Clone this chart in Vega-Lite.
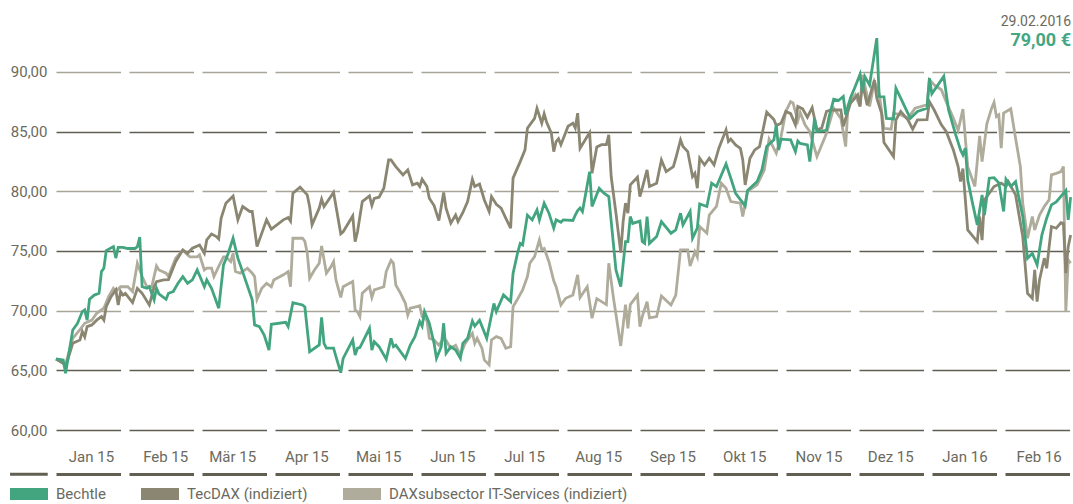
{
"$schema": "https://vega.github.io/schema/vega-lite/v6.json",
"width": 1017,
"height": 394,
"autosize": {"type": "none"},
"padding": {"left": 56, "top": 36, "right": 0, "bottom": 74},
"background": "white",
"title": {"text": "29.02.2016", "subtitle": "79,00 €", "anchor": "end", "orient": "top", "frame": "group", "offset": -17, "dx": -2, "font": "Roboto", "fontSize": 14, "fontWeight": "normal", "color": "#6b6a5e", "subtitleFont": "Roboto", "subtitleFontSize": 18, "subtitleFontWeight": "bold", "subtitleColor": "#44a683", "subtitlePadding": 3},
"config": {"view": {"stroke": null}, "font": "Roboto"},
"datasets": {
"bechtle": [{"Datum":"2015-01-01","Wert":65.95},{"Datum":"2015-01-04","Wert":65.87},{"Datum":"2015-01-05","Wert":64.75},{"Datum":"2015-01-08","Wert":68.38},{"Datum":"2015-01-10","Wert":68.94},{"Datum":"2015-01-12","Wert":69.92},{"Datum":"2015-01-13","Wert":70.06},{"Datum":"2015-01-14","Wert":69.2},{"Datum":"2015-01-15","Wert":70.95},{"Datum":"2015-01-17","Wert":71.3},{"Datum":"2015-01-19","Wert":71.45},{"Datum":"2015-01-20","Wert":73.27},{"Datum":"2015-01-21","Wert":73.55},{"Datum":"2015-01-22","Wert":75.03},{"Datum":"2015-01-25","Wert":75.36},{"Datum":"2015-01-26","Wert":74.4},{"Datum":"2015-01-27","Wert":75.3},{"Datum":"2015-01-29","Wert":75.3},{"Datum":"2015-01-31","Wert":75.2},{"Datum":"2015-02-03","Wert":75.2},{"Datum":"2015-02-04","Wert":75.36},{"Datum":"2015-02-05","Wert":76.15},{"Datum":"2015-02-06","Wert":72.0},{"Datum":"2015-02-08","Wert":71.87},{"Datum":"2015-02-09","Wert":72.0},{"Datum":"2015-02-11","Wert":70.9},{"Datum":"2015-02-12","Wert":71.87},{"Datum":"2015-02-13","Wert":71.4},{"Datum":"2015-02-16","Wert":70.95},{"Datum":"2015-02-17","Wert":71.45},{"Datum":"2015-02-19","Wert":71.6},{"Datum":"2015-02-21","Wert":72.29},{"Datum":"2015-02-23","Wert":72.85},{"Datum":"2015-02-25","Wert":72.29},{"Datum":"2015-02-27","Wert":72.57},{"Datum":"2015-03-01","Wert":73.41},{"Datum":"2015-03-04","Wert":72.0},{"Datum":"2015-03-05","Wert":72.57},{"Datum":"2015-03-07","Wert":71.87},{"Datum":"2015-03-10","Wert":70.2},{"Datum":"2015-03-12","Wert":73.83},{"Datum":"2015-03-14","Wert":74.8},{"Datum":"2015-03-16","Wert":76.06},{"Datum":"2015-03-18","Wert":74.39},{"Datum":"2015-03-19","Wert":73.83},{"Datum":"2015-03-24","Wert":70.9},{"Datum":"2015-03-25","Wert":68.8},{"Datum":"2015-03-27","Wert":68.66},{"Datum":"2015-03-29","Wert":67.96},{"Datum":"2015-03-31","Wert":66.7},{"Datum":"2015-04-01","Wert":68.85},{"Datum":"2015-04-07","Wert":69.02},{"Datum":"2015-04-08","Wert":68.66},{"Datum":"2015-04-10","Wert":70.67},{"Datum":"2015-04-14","Wert":70.47},{"Datum":"2015-04-15","Wert":70.3},{"Datum":"2015-04-17","Wert":66.56},{"Datum":"2015-04-21","Wert":67.12},{"Datum":"2015-04-22","Wert":69.44},{"Datum":"2015-04-23","Wert":67.26},{"Datum":"2015-04-24","Wert":66.85},{"Datum":"2015-04-27","Wert":66.85},{"Datum":"2015-04-28","Wert":66.14},{"Datum":"2015-04-30","Wert":64.8},{"Datum":"2015-05-01","Wert":66.0},{"Datum":"2015-05-05","Wert":67.54},{"Datum":"2015-05-06","Wert":66.28},{"Datum":"2015-05-07","Wert":66.85},{"Datum":"2015-05-08","Wert":66.9},{"Datum":"2015-05-12","Wert":68.52},{"Datum":"2015-05-13","Wert":66.7},{"Datum":"2015-05-14","Wert":67.4},{"Datum":"2015-05-16","Wert":66.98},{"Datum":"2015-05-19","Wert":65.93},{"Datum":"2015-05-21","Wert":67.68},{"Datum":"2015-05-22","Wert":66.98},{"Datum":"2015-05-23","Wert":67.1},{"Datum":"2015-05-27","Wert":66.0},{"Datum":"2015-05-29","Wert":67.1},{"Datum":"2015-05-31","Wert":67.82},{"Datum":"2015-06-02","Wert":69.08},{"Datum":"2015-06-03","Wert":68.7},{"Datum":"2015-06-04","Wert":69.92},{"Datum":"2015-06-06","Wert":68.94},{"Datum":"2015-06-08","Wert":67.26},{"Datum":"2015-06-09","Wert":66.0},{"Datum":"2015-06-11","Wert":66.98},{"Datum":"2015-06-12","Wert":68.94},{"Datum":"2015-06-13","Wert":66.42},{"Datum":"2015-06-15","Wert":66.98},{"Datum":"2015-06-17","Wert":66.7},{"Datum":"2015-06-19","Wert":66.0},{"Datum":"2015-06-20","Wert":67.26},{"Datum":"2015-06-22","Wert":67.68},{"Datum":"2015-06-24","Wert":69.13},{"Datum":"2015-06-25","Wert":68.7},{"Datum":"2015-06-27","Wert":69.2},{"Datum":"2015-06-30","Wert":67.68},{"Datum":"2015-07-03","Wert":70.6},{"Datum":"2015-07-04","Wert":69.92},{"Datum":"2015-07-07","Wert":71.31},{"Datum":"2015-07-10","Wert":70.75},{"Datum":"2015-07-11","Wert":73.12},{"Datum":"2015-07-13","Wert":74.93},{"Datum":"2015-07-14","Wert":75.63},{"Datum":"2015-07-15","Wert":75.5},{"Datum":"2015-07-17","Wert":78.0},{"Datum":"2015-07-19","Wert":77.6},{"Datum":"2015-07-21","Wert":78.44},{"Datum":"2015-07-22","Wert":77.6},{"Datum":"2015-07-24","Wert":79.0},{"Datum":"2015-07-26","Wert":78.16},{"Datum":"2015-07-28","Wert":76.9},{"Datum":"2015-07-29","Wert":77.6},{"Datum":"2015-07-31","Wert":77.4},{"Datum":"2015-08-01","Wert":77.6},{"Datum":"2015-08-05","Wert":77.55},{"Datum":"2015-08-06","Wert":78.0},{"Datum":"2015-08-07","Wert":78.38},{"Datum":"2015-08-08","Wert":78.6},{"Datum":"2015-08-09","Wert":78.3},{"Datum":"2015-08-12","Wert":81.64},{"Datum":"2015-08-13","Wert":78.72},{"Datum":"2015-08-16","Wert":80.25},{"Datum":"2015-08-18","Wert":79.83},{"Datum":"2015-08-20","Wert":79.55},{"Datum":"2015-08-23","Wert":73.41},{"Datum":"2015-08-25","Wert":72.0},{"Datum":"2015-08-27","Wert":75.78},{"Datum":"2015-08-28","Wert":75.78},{"Datum":"2015-08-29","Wert":77.88},{"Datum":"2015-08-30","Wert":77.3},{"Datum":"2015-09-02","Wert":77.5},{"Datum":"2015-09-03","Wert":75.78},{"Datum":"2015-09-04","Wert":75.63},{"Datum":"2015-09-05","Wert":77.88},{"Datum":"2015-09-06","Wert":75.63},{"Datum":"2015-09-09","Wert":76.2},{"Datum":"2015-09-11","Wert":77.46},{"Datum":"2015-09-15","Wert":76.48},{"Datum":"2015-09-17","Wert":76.76},{"Datum":"2015-09-19","Wert":78.16},{"Datum":"2015-09-20","Wert":77.18},{"Datum":"2015-09-23","Wert":78.3},{"Datum":"2015-09-24","Wert":76.06},{"Datum":"2015-09-26","Wert":76.9},{"Datum":"2015-09-27","Wert":78.94},{"Datum":"2015-09-30","Wert":78.72},{"Datum":"2015-10-02","Wert":80.67},{"Datum":"2015-10-04","Wert":80.39},{"Datum":"2015-10-08","Wert":82.29},{"Datum":"2015-10-10","Wert":81.09},{"Datum":"2015-10-12","Wert":79.83},{"Datum":"2015-10-16","Wert":78.77},{"Datum":"2015-10-17","Wert":80.06},{"Datum":"2015-10-21","Wert":80.81},{"Datum":"2015-10-23","Wert":81.79},{"Datum":"2015-10-25","Wert":83.74},{"Datum":"2015-10-28","Wert":84.3},{"Datum":"2015-10-29","Wert":85.56},{"Datum":"2015-10-30","Wert":83.46},{"Datum":"2015-10-31","Wert":84.36},{"Datum":"2015-11-04","Wert":84.3},{"Datum":"2015-11-06","Wert":83.32},{"Datum":"2015-11-07","Wert":84.2},{"Datum":"2015-11-08","Wert":84.0},{"Datum":"2015-11-11","Wert":83.88},{"Datum":"2015-11-12","Wert":82.48},{"Datum":"2015-11-14","Wert":86.1},{"Datum":"2015-11-15","Wert":85.0},{"Datum":"2015-11-19","Wert":85.1},{"Datum":"2015-11-20","Wert":86.2},{"Datum":"2015-11-22","Wert":87.7},{"Datum":"2015-11-24","Wert":87.6},{"Datum":"2015-11-26","Wert":87.93},{"Datum":"2015-11-27","Wert":86.4},{"Datum":"2015-11-29","Wert":87.8},{"Datum":"2015-12-01","Wert":88.77},{"Datum":"2015-12-03","Wert":89.8},{"Datum":"2015-12-04","Wert":88.35},{"Datum":"2015-12-05","Wert":89.6},{"Datum":"2015-12-07","Wert":88.9},{"Datum":"2015-12-10","Wert":92.82},{"Datum":"2015-12-11","Wert":87.93},{"Datum":"2015-12-13","Wert":87.9},{"Datum":"2015-12-14","Wert":86.1},{"Datum":"2015-12-17","Wert":86.05},{"Datum":"2015-12-18","Wert":88.63},{"Datum":"2015-12-20","Wert":87.8},{"Datum":"2015-12-24","Wert":86.1},{"Datum":"2015-12-27","Wert":86.68},{"Datum":"2015-12-31","Wert":86.96},{"Datum":"2016-01-01","Wert":89.47},{"Datum":"2016-01-02","Wert":88.16},{"Datum":"2016-01-07","Wert":89.62},{"Datum":"2016-01-09","Wert":86.8},{"Datum":"2016-01-12","Wert":84.72},{"Datum":"2016-01-14","Wert":83.46},{"Datum":"2016-01-15","Wert":83.04},{"Datum":"2016-01-16","Wert":83.6},{"Datum":"2016-01-17","Wert":80.95},{"Datum":"2016-01-19","Wert":79.0},{"Datum":"2016-01-21","Wert":77.18},{"Datum":"2016-01-23","Wert":79.69},{"Datum":"2016-01-24","Wert":78.0},{"Datum":"2016-01-26","Wert":81.09},{"Datum":"2016-01-28","Wert":81.13},{"Datum":"2016-01-30","Wert":80.7},{"Datum":"2016-02-01","Wert":78.3},{"Datum":"2016-02-02","Wert":81.0},{"Datum":"2016-02-04","Wert":80.4},{"Datum":"2016-02-06","Wert":80.8},{"Datum":"2016-02-09","Wert":77.88},{"Datum":"2016-02-11","Wert":74.38},{"Datum":"2016-02-13","Wert":74.8},{"Datum":"2016-02-15","Wert":73.83},{"Datum":"2016-02-17","Wert":76.34},{"Datum":"2016-02-19","Wert":77.74},{"Datum":"2016-02-21","Wert":78.86},{"Datum":"2016-02-23","Wert":79.1},{"Datum":"2016-02-27","Wert":80.06},{"Datum":"2016-02-28","Wert":77.6},{"Datum":"2016-02-29","Wert":79.5}],
"tecdax": [{"Datum":"2015-01-01","Wert":65.95},{"Datum":"2015-01-04","Wert":65.59},{"Datum":"2015-01-05","Wert":65.3},{"Datum":"2015-01-08","Wert":67.26},{"Datum":"2015-01-11","Wert":67.54},{"Datum":"2015-01-12","Wert":68.24},{"Datum":"2015-01-13","Wert":67.8},{"Datum":"2015-01-14","Wert":68.66},{"Datum":"2015-01-16","Wert":68.8},{"Datum":"2015-01-18","Wert":69.2},{"Datum":"2015-01-20","Wert":69.5},{"Datum":"2015-01-21","Wert":69.2},{"Datum":"2015-01-22","Wert":70.33},{"Datum":"2015-01-24","Wert":71.17},{"Datum":"2015-01-26","Wert":71.73},{"Datum":"2015-01-27","Wert":70.47},{"Datum":"2015-01-28","Wert":71.6},{"Datum":"2015-01-29","Wert":71.31},{"Datum":"2015-01-30","Wert":71.45},{"Datum":"2015-02-02","Wert":70.67},{"Datum":"2015-02-04","Wert":71.87},{"Datum":"2015-02-06","Wert":71.45},{"Datum":"2015-02-09","Wert":70.47},{"Datum":"2015-02-11","Wert":72.0},{"Datum":"2015-02-12","Wert":72.43},{"Datum":"2015-02-15","Wert":72.57},{"Datum":"2015-02-17","Wert":72.6},{"Datum":"2015-02-20","Wert":74.1},{"Datum":"2015-02-23","Wert":75.08},{"Datum":"2015-02-25","Wert":74.8},{"Datum":"2015-02-27","Wert":75.22},{"Datum":"2015-03-02","Wert":75.5},{"Datum":"2015-03-04","Wert":74.8},{"Datum":"2015-03-05","Wert":75.92},{"Datum":"2015-03-07","Wert":76.42},{"Datum":"2015-03-09","Wert":76.2},{"Datum":"2015-03-10","Wert":76.0},{"Datum":"2015-03-11","Wert":77.73},{"Datum":"2015-03-13","Wert":79.0},{"Datum":"2015-03-16","Wert":79.6},{"Datum":"2015-03-18","Wert":77.6},{"Datum":"2015-03-20","Wert":78.72},{"Datum":"2015-03-23","Wert":78.3},{"Datum":"2015-03-24","Wert":78.3},{"Datum":"2015-03-26","Wert":75.36},{"Datum":"2015-03-30","Wert":77.6},{"Datum":"2015-04-01","Wert":76.82},{"Datum":"2015-04-06","Wert":77.6},{"Datum":"2015-04-08","Wert":77.8},{"Datum":"2015-04-09","Wert":77.5},{"Datum":"2015-04-10","Wert":79.83},{"Datum":"2015-04-13","Wert":80.34},{"Datum":"2015-04-16","Wert":79.69},{"Datum":"2015-04-17","Wert":78.7},{"Datum":"2015-04-18","Wert":77.18},{"Datum":"2015-04-21","Wert":78.58},{"Datum":"2015-04-22","Wert":79.33},{"Datum":"2015-04-23","Wert":78.72},{"Datum":"2015-04-27","Wert":79.9},{"Datum":"2015-04-30","Wert":76.43},{"Datum":"2015-05-01","Wert":76.6},{"Datum":"2015-05-05","Wert":77.93},{"Datum":"2015-05-06","Wert":75.78},{"Datum":"2015-05-07","Wert":76.6},{"Datum":"2015-05-09","Wert":79.13},{"Datum":"2015-05-12","Wert":79.6},{"Datum":"2015-05-13","Wert":78.8},{"Datum":"2015-05-14","Wert":79.4},{"Datum":"2015-05-16","Wert":79.5},{"Datum":"2015-05-18","Wert":80.25},{"Datum":"2015-05-20","Wert":82.62},{"Datum":"2015-05-21","Wert":82.62},{"Datum":"2015-05-23","Wert":82.06},{"Datum":"2015-05-26","Wert":81.37},{"Datum":"2015-05-28","Wert":81.79},{"Datum":"2015-05-30","Wert":80.53},{"Datum":"2015-06-01","Wert":80.67},{"Datum":"2015-06-02","Wert":80.4},{"Datum":"2015-06-03","Wert":81.0},{"Datum":"2015-06-05","Wert":80.4},{"Datum":"2015-06-06","Wert":79.41},{"Datum":"2015-06-08","Wert":78.8},{"Datum":"2015-06-10","Wert":77.54},{"Datum":"2015-06-12","Wert":79.9},{"Datum":"2015-06-13","Wert":78.58},{"Datum":"2015-06-15","Wert":77.32},{"Datum":"2015-06-17","Wert":78.0},{"Datum":"2015-06-18","Wert":77.46},{"Datum":"2015-06-20","Wert":78.2},{"Datum":"2015-06-22","Wert":79.13},{"Datum":"2015-06-24","Wert":81.0},{"Datum":"2015-06-25","Wert":80.4},{"Datum":"2015-06-27","Wert":80.6},{"Datum":"2015-06-29","Wert":79.27},{"Datum":"2015-07-01","Wert":78.3},{"Datum":"2015-07-02","Wert":79.55},{"Datum":"2015-07-04","Wert":78.9},{"Datum":"2015-07-06","Wert":78.58},{"Datum":"2015-07-08","Wert":77.73},{"Datum":"2015-07-10","Wert":76.9},{"Datum":"2015-07-11","Wert":81.1},{"Datum":"2015-07-14","Wert":82.48},{"Datum":"2015-07-16","Wert":83.46},{"Datum":"2015-07-17","Wert":85.27},{"Datum":"2015-07-20","Wert":86.1},{"Datum":"2015-07-21","Wert":86.94},{"Datum":"2015-07-23","Wert":85.7},{"Datum":"2015-07-24","Wert":86.48},{"Datum":"2015-07-25","Wert":85.8},{"Datum":"2015-07-27","Wert":84.86},{"Datum":"2015-07-28","Wert":83.32},{"Datum":"2015-07-29","Wert":84.16},{"Datum":"2015-07-30","Wert":84.4},{"Datum":"2015-07-31","Wert":83.9},{"Datum":"2015-08-03","Wert":85.44},{"Datum":"2015-08-05","Wert":85.7},{"Datum":"2015-08-06","Wert":85.3},{"Datum":"2015-08-07","Wert":86.54},{"Datum":"2015-08-08","Wert":83.6},{"Datum":"2015-08-11","Wert":84.58},{"Datum":"2015-08-12","Wert":84.9},{"Datum":"2015-08-13","Wert":81.5},{"Datum":"2015-08-15","Wert":83.7},{"Datum":"2015-08-17","Wert":83.9},{"Datum":"2015-08-19","Wert":83.9},{"Datum":"2015-08-20","Wert":84.72},{"Datum":"2015-08-21","Wert":81.23},{"Datum":"2015-08-23","Wert":78.16},{"Datum":"2015-08-25","Wert":74.86},{"Datum":"2015-08-26","Wert":77.46},{"Datum":"2015-08-27","Wert":79.0},{"Datum":"2015-08-28","Wert":78.16},{"Datum":"2015-08-29","Wert":80.53},{"Datum":"2015-09-01","Wert":81.17},{"Datum":"2015-09-02","Wert":79.55},{"Datum":"2015-09-03","Wert":80.25},{"Datum":"2015-09-05","Wert":81.79},{"Datum":"2015-09-06","Wert":80.4},{"Datum":"2015-09-09","Wert":80.67},{"Datum":"2015-09-11","Wert":82.62},{"Datum":"2015-09-13","Wert":81.64},{"Datum":"2015-09-16","Wert":82.06},{"Datum":"2015-09-17","Wert":82.76},{"Datum":"2015-09-19","Wert":84.3},{"Datum":"2015-09-20","Wert":83.74},{"Datum":"2015-09-22","Wert":83.32},{"Datum":"2015-09-24","Wert":81.23},{"Datum":"2015-09-25","Wert":81.5},{"Datum":"2015-09-26","Wert":80.25},{"Datum":"2015-09-27","Wert":82.76},{"Datum":"2015-09-29","Wert":82.2},{"Datum":"2015-10-01","Wert":82.76},{"Datum":"2015-10-03","Wert":82.2},{"Datum":"2015-10-05","Wert":83.6},{"Datum":"2015-10-08","Wert":85.14},{"Datum":"2015-10-09","Wert":84.16},{"Datum":"2015-10-10","Wert":84.36},{"Datum":"2015-10-12","Wert":83.88},{"Datum":"2015-10-14","Wert":83.6},{"Datum":"2015-10-15","Wert":82.62},{"Datum":"2015-10-16","Wert":80.53},{"Datum":"2015-10-18","Wert":82.76},{"Datum":"2015-10-20","Wert":83.46},{"Datum":"2015-10-22","Wert":83.74},{"Datum":"2015-10-25","Wert":86.62},{"Datum":"2015-10-28","Wert":86.0},{"Datum":"2015-10-29","Wert":85.5},{"Datum":"2015-10-31","Wert":85.7},{"Datum":"2015-11-02","Wert":86.68},{"Datum":"2015-11-04","Wert":86.5},{"Datum":"2015-11-06","Wert":85.56},{"Datum":"2015-11-07","Wert":87.1},{"Datum":"2015-11-09","Wert":86.9},{"Datum":"2015-11-11","Wert":86.2},{"Datum":"2015-11-13","Wert":87.0},{"Datum":"2015-11-15","Wert":85.14},{"Datum":"2015-11-17","Wert":85.3},{"Datum":"2015-11-19","Wert":86.68},{"Datum":"2015-11-21","Wert":86.8},{"Datum":"2015-11-25","Wert":86.8},{"Datum":"2015-11-26","Wert":85.44},{"Datum":"2015-11-29","Wert":87.37},{"Datum":"2015-12-02","Wert":88.07},{"Datum":"2015-12-03","Wert":87.1},{"Datum":"2015-12-04","Wert":89.05},{"Datum":"2015-12-06","Wert":87.2},{"Datum":"2015-12-09","Wert":89.3},{"Datum":"2015-12-10","Wert":87.8},{"Datum":"2015-12-12","Wert":86.54},{"Datum":"2015-12-13","Wert":84.08},{"Datum":"2015-12-17","Wert":82.9},{"Datum":"2015-12-18","Wert":85.98},{"Datum":"2015-12-20","Wert":86.68},{"Datum":"2015-12-23","Wert":85.98},{"Datum":"2015-12-25","Wert":85.2},{"Datum":"2015-12-27","Wert":85.98},{"Datum":"2015-12-31","Wert":86.0},{"Datum":"2016-01-01","Wert":87.5},{"Datum":"2016-01-03","Wert":86.8},{"Datum":"2016-01-06","Wert":85.56},{"Datum":"2016-01-08","Wert":85.0},{"Datum":"2016-01-11","Wert":83.46},{"Datum":"2016-01-13","Wert":82.06},{"Datum":"2016-01-14","Wert":80.81},{"Datum":"2016-01-15","Wert":81.9},{"Datum":"2016-01-17","Wert":76.76},{"Datum":"2016-01-21","Wert":75.78},{"Datum":"2016-01-22","Wert":77.88},{"Datum":"2016-01-23","Wert":75.9},{"Datum":"2016-01-24","Wert":79.27},{"Datum":"2016-01-28","Wert":80.39},{"Datum":"2016-01-31","Wert":80.67},{"Datum":"2016-02-02","Wert":80.4},{"Datum":"2016-02-03","Wert":80.8},{"Datum":"2016-02-06","Wert":79.69},{"Datum":"2016-02-09","Wert":76.2},{"Datum":"2016-02-11","Wert":71.45},{"Datum":"2016-02-13","Wert":71.03},{"Datum":"2016-02-14","Wert":73.41},{"Datum":"2016-02-15","Wert":70.75},{"Datum":"2016-02-16","Wert":72.57},{"Datum":"2016-02-18","Wert":74.39},{"Datum":"2016-02-19","Wert":73.55},{"Datum":"2016-02-21","Wert":77.04},{"Datum":"2016-02-23","Wert":76.9},{"Datum":"2016-02-25","Wert":77.37},{"Datum":"2016-02-26","Wert":77.3},{"Datum":"2016-02-27","Wert":73.13},{"Datum":"2016-02-28","Wert":75.36},{"Datum":"2016-02-29","Wert":76.34}],
"dax": [{"Datum":"2015-01-01","Wert":65.95},{"Datum":"2015-01-04","Wert":65.6},{"Datum":"2015-01-05","Wert":65.5},{"Datum":"2015-01-08","Wert":67.68},{"Datum":"2015-01-11","Wert":68.4},{"Datum":"2015-01-13","Wert":68.94},{"Datum":"2015-01-16","Wert":69.2},{"Datum":"2015-01-18","Wert":69.78},{"Datum":"2015-01-21","Wert":70.2},{"Datum":"2015-01-23","Wert":71.17},{"Datum":"2015-01-25","Wert":71.87},{"Datum":"2015-01-26","Wert":71.6},{"Datum":"2015-01-28","Wert":72.0},{"Datum":"2015-01-31","Wert":72.0},{"Datum":"2015-02-02","Wert":71.6},{"Datum":"2015-02-04","Wert":73.97},{"Datum":"2015-02-06","Wert":72.85},{"Datum":"2015-02-08","Wert":72.0},{"Datum":"2015-02-10","Wert":72.0},{"Datum":"2015-02-12","Wert":73.74},{"Datum":"2015-02-13","Wert":73.4},{"Datum":"2015-02-16","Wert":73.13},{"Datum":"2015-02-17","Wert":72.85},{"Datum":"2015-02-20","Wert":74.39},{"Datum":"2015-02-23","Wert":75.08},{"Datum":"2015-02-25","Wert":74.66},{"Datum":"2015-02-26","Wert":74.5},{"Datum":"2015-03-01","Wert":74.5},{"Datum":"2015-03-02","Wert":74.66},{"Datum":"2015-03-04","Wert":73.41},{"Datum":"2015-03-05","Wert":73.55},{"Datum":"2015-03-07","Wert":73.55},{"Datum":"2015-03-08","Wert":72.85},{"Datum":"2015-03-10","Wert":73.7},{"Datum":"2015-03-12","Wert":74.5},{"Datum":"2015-03-13","Wert":74.5},{"Datum":"2015-03-15","Wert":74.1},{"Datum":"2015-03-16","Wert":74.8},{"Datum":"2015-03-17","Wert":73.27},{"Datum":"2015-03-19","Wert":73.13},{"Datum":"2015-03-22","Wert":73.55},{"Datum":"2015-03-24","Wert":73.13},{"Datum":"2015-03-25","Wert":72.85},{"Datum":"2015-03-26","Wert":70.95},{"Datum":"2015-03-28","Wert":71.87},{"Datum":"2015-03-30","Wert":72.29},{"Datum":"2015-04-01","Wert":72.0},{"Datum":"2015-04-02","Wert":72.57},{"Datum":"2015-04-06","Wert":73.0},{"Datum":"2015-04-08","Wert":73.27},{"Datum":"2015-04-09","Wert":72.0},{"Datum":"2015-04-10","Wert":76.06},{"Datum":"2015-04-14","Wert":76.06},{"Datum":"2015-04-15","Wert":75.8},{"Datum":"2015-04-16","Wert":74.8},{"Datum":"2015-04-17","Wert":72.71},{"Datum":"2015-04-19","Wert":73.4},{"Datum":"2015-04-21","Wert":73.97},{"Datum":"2015-04-22","Wert":75.42},{"Datum":"2015-04-24","Wert":73.13},{"Datum":"2015-04-26","Wert":73.7},{"Datum":"2015-04-27","Wert":74.1},{"Datum":"2015-04-28","Wert":72.57},{"Datum":"2015-04-30","Wert":71.1},{"Datum":"2015-05-01","Wert":72.0},{"Datum":"2015-05-05","Wert":72.43},{"Datum":"2015-05-06","Wert":70.06},{"Datum":"2015-05-07","Wert":69.9},{"Datum":"2015-05-08","Wert":69.5},{"Datum":"2015-05-09","Wert":71.45},{"Datum":"2015-05-12","Wert":72.0},{"Datum":"2015-05-13","Wert":71.1},{"Datum":"2015-05-14","Wert":71.73},{"Datum":"2015-05-18","Wert":72.0},{"Datum":"2015-05-19","Wert":73.27},{"Datum":"2015-05-21","Wert":74.2},{"Datum":"2015-05-22","Wert":73.97},{"Datum":"2015-05-23","Wert":72.15},{"Datum":"2015-05-25","Wert":71.45},{"Datum":"2015-05-27","Wert":70.61},{"Datum":"2015-05-28","Wert":69.63},{"Datum":"2015-05-29","Wert":70.2},{"Datum":"2015-05-31","Wert":70.3},{"Datum":"2015-06-02","Wert":70.4},{"Datum":"2015-06-03","Wert":69.5},{"Datum":"2015-06-05","Wert":69.2},{"Datum":"2015-06-06","Wert":67.68},{"Datum":"2015-06-08","Wert":67.54},{"Datum":"2015-06-10","Wert":67.1},{"Datum":"2015-06-12","Wert":67.68},{"Datum":"2015-06-13","Wert":67.5},{"Datum":"2015-06-15","Wert":66.85},{"Datum":"2015-06-17","Wert":67.1},{"Datum":"2015-06-19","Wert":66.28},{"Datum":"2015-06-21","Wert":67.26},{"Datum":"2015-06-23","Wert":67.82},{"Datum":"2015-06-24","Wert":68.1},{"Datum":"2015-06-25","Wert":67.26},{"Datum":"2015-06-26","Wert":67.68},{"Datum":"2015-06-28","Wert":66.85},{"Datum":"2015-06-29","Wert":65.87},{"Datum":"2015-07-01","Wert":65.45},{"Datum":"2015-07-02","Wert":67.54},{"Datum":"2015-07-04","Wert":67.82},{"Datum":"2015-07-06","Wert":67.68},{"Datum":"2015-07-08","Wert":66.85},{"Datum":"2015-07-10","Wert":66.98},{"Datum":"2015-07-11","Wert":70.33},{"Datum":"2015-07-13","Wert":71.0},{"Datum":"2015-07-15","Wert":71.73},{"Datum":"2015-07-17","Wert":72.85},{"Datum":"2015-07-18","Wert":73.97},{"Datum":"2015-07-20","Wert":74.53},{"Datum":"2015-07-22","Wert":75.92},{"Datum":"2015-07-23","Wert":75.1},{"Datum":"2015-07-24","Wert":75.2},{"Datum":"2015-07-26","Wert":74.1},{"Datum":"2015-07-28","Wert":72.5},{"Datum":"2015-07-29","Wert":72.0},{"Datum":"2015-07-31","Wert":70.47},{"Datum":"2015-08-02","Wert":71.03},{"Datum":"2015-08-05","Wert":71.3},{"Datum":"2015-08-07","Wert":73.0},{"Datum":"2015-08-08","Wert":71.1},{"Datum":"2015-08-11","Wert":72.0},{"Datum":"2015-08-13","Wert":69.36},{"Datum":"2015-08-15","Wert":71.0},{"Datum":"2015-08-19","Wert":70.5},{"Datum":"2015-08-20","Wert":73.97},{"Datum":"2015-08-22","Wert":71.0},{"Datum":"2015-08-25","Wert":67.04},{"Datum":"2015-08-27","Wert":70.5},{"Datum":"2015-08-28","Wert":68.52},{"Datum":"2015-08-29","Wert":70.5},{"Datum":"2015-09-01","Wert":71.3},{"Datum":"2015-09-02","Wert":68.66},{"Datum":"2015-09-03","Wert":69.5},{"Datum":"2015-09-05","Wert":70.75},{"Datum":"2015-09-06","Wert":69.4},{"Datum":"2015-09-09","Wert":69.5},{"Datum":"2015-09-11","Wert":71.23},{"Datum":"2015-09-15","Wert":70.47},{"Datum":"2015-09-17","Wert":71.3},{"Datum":"2015-09-19","Wert":75.08},{"Datum":"2015-09-22","Wert":75.08},{"Datum":"2015-09-23","Wert":73.74},{"Datum":"2015-09-25","Wert":74.94},{"Datum":"2015-09-26","Wert":74.5},{"Datum":"2015-09-27","Wert":77.04},{"Datum":"2015-09-30","Wert":76.48},{"Datum":"2015-10-01","Wert":78.0},{"Datum":"2015-10-04","Wert":78.72},{"Datum":"2015-10-06","Wert":80.67},{"Datum":"2015-10-08","Wert":80.25},{"Datum":"2015-10-10","Wert":79.13},{"Datum":"2015-10-14","Wert":79.0},{"Datum":"2015-10-15","Wert":77.88},{"Datum":"2015-10-17","Wert":80.0},{"Datum":"2015-10-21","Wert":80.53},{"Datum":"2015-10-24","Wert":81.79},{"Datum":"2015-10-26","Wert":84.36},{"Datum":"2015-10-29","Wert":83.18},{"Datum":"2015-10-31","Wert":84.58},{"Datum":"2015-11-02","Wert":86.68},{"Datum":"2015-11-04","Wert":87.5},{"Datum":"2015-11-05","Wert":87.4},{"Datum":"2015-11-07","Wert":85.9},{"Datum":"2015-11-08","Wert":86.6},{"Datum":"2015-11-10","Wert":85.56},{"Datum":"2015-11-12","Wert":85.0},{"Datum":"2015-11-15","Wert":82.9},{"Datum":"2015-11-19","Wert":84.86},{"Datum":"2015-11-22","Wert":86.96},{"Datum":"2015-11-25","Wert":86.1},{"Datum":"2015-11-27","Wert":83.74},{"Datum":"2015-11-28","Wert":87.24},{"Datum":"2015-12-01","Wert":88.07},{"Datum":"2015-12-03","Wert":87.1},{"Datum":"2015-12-04","Wert":89.75},{"Datum":"2015-12-07","Wert":87.1},{"Datum":"2015-12-09","Wert":89.2},{"Datum":"2015-12-11","Wert":88.2},{"Datum":"2015-12-13","Wert":85.27},{"Datum":"2015-12-16","Wert":85.2},{"Datum":"2015-12-17","Wert":86.54},{"Datum":"2015-12-20","Wert":86.4},{"Datum":"2015-12-23","Wert":86.1},{"Datum":"2015-12-26","Wert":86.96},{"Datum":"2015-12-31","Wert":87.24},{"Datum":"2016-01-01","Wert":89.33},{"Datum":"2016-01-03","Wert":88.9},{"Datum":"2016-01-06","Wert":88.5},{"Datum":"2016-01-08","Wert":87.5},{"Datum":"2016-01-11","Wert":86.1},{"Datum":"2016-01-13","Wert":85.1},{"Datum":"2016-01-15","Wert":86.88},{"Datum":"2016-01-17","Wert":82.06},{"Datum":"2016-01-20","Wert":80.4},{"Datum":"2016-01-22","Wert":84.64},{"Datum":"2016-01-23","Wert":82.48},{"Datum":"2016-01-25","Wert":85.64},{"Datum":"2016-01-27","Wert":86.96},{"Datum":"2016-01-28","Wert":87.43},{"Datum":"2016-01-29","Wert":86.26},{"Datum":"2016-01-30","Wert":86.4},{"Datum":"2016-01-31","Wert":83.6},{"Datum":"2016-02-01","Wert":86.54},{"Datum":"2016-02-04","Wert":86.9},{"Datum":"2016-02-06","Wert":84.44},{"Datum":"2016-02-08","Wert":82.06},{"Datum":"2016-02-09","Wert":79.0},{"Datum":"2016-02-11","Wert":76.06},{"Datum":"2016-02-13","Wert":77.88},{"Datum":"2016-02-14","Wert":76.76},{"Datum":"2016-02-16","Wert":78.0},{"Datum":"2016-02-18","Wert":78.72},{"Datum":"2016-02-20","Wert":79.27},{"Datum":"2016-02-21","Wert":81.37},{"Datum":"2016-02-23","Wert":81.5},{"Datum":"2016-02-25","Wert":81.65},{"Datum":"2016-02-26","Wert":82.06},{"Datum":"2016-02-27","Wert":69.92},{"Datum":"2016-02-28","Wert":74.25},{"Datum":"2016-02-29","Wert":73.97}]
},
"encoding": {
  "x": {"field": "Datum", "type": "temporal",
    "scale": {"type": "utc", "domain": [{"year": 2015, "month": 1, "date": 1, "utc": true}, {"year": 2016, "month": 3, "date": 1, "utc": true}]},
    "axis": {"title": null, "grid": false, "ticks": false, "tickSize": 0, "offset": 44,
      "domain": true, "domainColor": "#625f52", "domainWidth": 3, "domainDash": [64.5, 8.5], "domainCap": "butt",
      "values": [{"year":2015,"month":1,"date":1,"utc":true},{"year":2015,"month":2,"date":1,"utc":true},{"year":2015,"month":3,"date":1,"utc":true},{"year":2015,"month":4,"date":1,"utc":true},{"year":2015,"month":5,"date":1,"utc":true},{"year":2015,"month":6,"date":1,"utc":true},{"year":2015,"month":7,"date":1,"utc":true},{"year":2015,"month":8,"date":1,"utc":true},{"year":2015,"month":9,"date":1,"utc":true},{"year":2015,"month":10,"date":1,"utc":true},{"year":2015,"month":11,"date":1,"utc":true},{"year":2015,"month":12,"date":1,"utc":true},{"year":2016,"month":1,"date":1,"utc":true},{"year":2016,"month":2,"date":1,"utc":true}],
      "labelExpr": "['Jan','Feb','Mär','Apr','Mai','Jun','Jul','Aug','Sep','Okt','Nov','Dez'][utcmonth(datum.value)] + ' ' + utcFormat(datum.value, '%y')",
      "labelAlign": "center", "labelOffset": 35, "labelPadding": -25, "labelFlush": false, "labelOverlap": false, "labelBound": false,
      "labelFont": "Roboto", "labelFontSize": 15, "labelColor": "#6b6a5e"}},
  "y": {"field": "Wert", "type": "quantitative",
    "scale": {"domain": [60, 93], "nice": false, "zero": false},
    "axis": {"title": null, "values": [60, 65, 70, 75, 80, 85, 90], "domain": false, "ticks": false, "tickSize": 0, "labelPadding": 9,
      "labelExpr": "replace(format(datum.value, '.2f'), '.', ',')",
      "labelFont": "Roboto", "labelFontSize": 15, "labelColor": "#6b6a5e",
      "grid": true, "gridDash": [64.5, 8.5], "gridWidth": 1.6,
      "gridColor": {"condition": {"test": "datum.value % 10 === 0 && datum.value > 60", "value": "#a6a597"}, "value": "#5f5e52"}}}
},
"layer": [
  {"data": {"values": [{"von": "2014-12-12T19:00:00Z", "bis": "2015-01-01T00:00:00Z", "Wert": 56.3}]},
   "mark": {"type": "rule", "stroke": "#625f52", "strokeWidth": 3, "strokeDash": [37.7, 100]},
   "encoding": {
     "x": {"field": "von", "type": "temporal"},
     "x2": {"field": "bis"},
     "y": {"field": "Wert", "type": "quantitative"}}},
  {"data": {"name": "dax"},
   "mark": {"type": "line", "strokeWidth": 2.8, "clip": false},
   "encoding": {"color": {"datum": "DAXsubsector IT-Services (indiziert)",
     "scale": {"domain": ["Bechtle", "TecDAX (indiziert)", "DAXsubsector IT-Services (indiziert)"], "range": ["#43a57f", "#8a8672", "#afac9c"]},
     "legend": {"orient": "none", "legendX": -52, "legendY": 433, "direction": "horizontal", "title": null, "padding": 0,
       "symbolType": "stroke", "symbolSize": 1444, "symbolStrokeWidth": 12, "labelOffset": 2, "columnPadding": 11, "labelLimit": 0,
       "labelFont": "Roboto", "labelFontSize": 15, "labelColor": "#6b6a5e"}}}},
  {"data": {"name": "tecdax"},
   "mark": {"type": "line", "strokeWidth": 2.8, "clip": false},
   "encoding": {"color": {"datum": "TecDAX (indiziert)"}}},
  {"data": {"name": "bechtle"},
   "mark": {"type": "line", "strokeWidth": 2.8, "clip": false},
   "encoding": {"color": {"datum": "Bechtle"}}}
]
}
